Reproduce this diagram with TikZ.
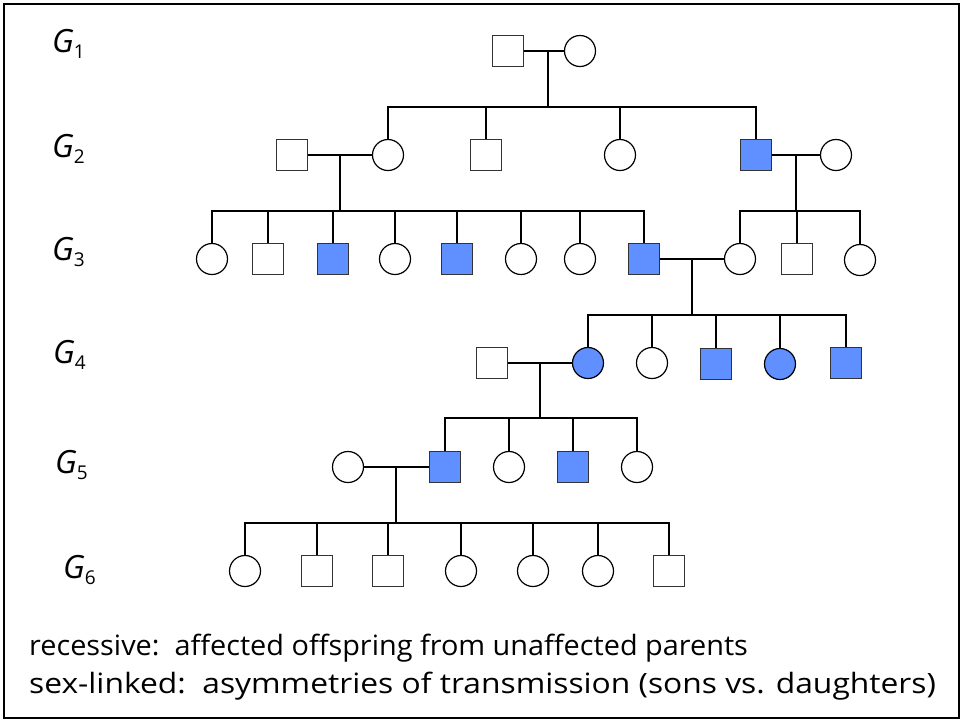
\documentclass[tikz,border=0pt]{standalone}
\usepackage{fontspec}
\setmainfont{Open Sans}
\definecolor{aff}{RGB}{96,143,255}
\tikzset{
  male/.style={draw=black!80, line width=1.3pt, fill=white, minimum size=31pt, inner sep=0pt, shape=rectangle},
  female/.style={draw=black, line width=1.2pt, fill=white, minimum size=31pt, inner sep=0pt, shape=circle},
  affected/.style={fill=aff},
  link/.style={draw=black, line width=2pt},
  glabel/.style={anchor=base west, inner sep=0pt, font=\fontsize{32}{32}\selectfont},
  caption/.style={anchor=base west, inner sep=0pt, font=\fontsize{28}{28}\selectfont}
}
\newcommand{\gen}[1]{{\itshape G}\raisebox{-6pt}{\fontsize{19}{19}\selectfont #1}}
\begin{document}
\begin{tikzpicture}[x=1pt,y=-1pt]
\useasboundingbox (0,0) rectangle (961,721);
\draw[line width=2pt] (4,4) rectangle (959,718);
% generation labels
\node[glabel] (l1) at (52,52) {\gen{1}};
\node[glabel] (l2) at (52,157) {\gen{2}};
\node[glabel] (l3) at (52,260) {\gen{3}};
\node[glabel] (l4) at (53,363) {\gen{4}};
\node[glabel] (l5) at (55,473) {\gen{5}};
\node[glabel] (l6) at (63,578) {\gen{6}};
% G1
\node[male] (a1) at (508,51) {};
\node[female] (a2) at (580,51) {};
\coordinate (m1) at (548,51);
\coordinate (s1) at (0,107);
% G2
\node[male] (b1) at (292,155) {};
\node[female] (b2) at (388,155) {};
\node[male] (b3) at (486,155) {};
\node[female] (b4) at (620,155) {};
\node[male,affected] (b5) at (756,155) {};
\node[female] (b6) at (836,155) {};
\coordinate (m2a) at (340,155);
\coordinate (m2b) at (796,155);
\coordinate (s2) at (0,211);
% G3
\node[female] (c1) at (212,259) {};
\node[male] (c2) at (268,259) {};
\node[male,affected] (c3) at (333,259) {};
\node[female] (c4) at (395,259) {};
\node[male,affected] (c5) at (457,259) {};
\node[female] (c6) at (521,259) {};
\node[female] (c7) at (580,259) {};
\node[male,affected] (c8) at (644,259) {};
\node[female] (c9) at (740,259) {};
\node[male] (c10) at (797,259) {};
\node[female] (c11) at (860,260) {};
\coordinate (m3) at (692,259);
\coordinate (s3) at (0,315);
% G4
\node[male] (d0) at (492,363) {};
\node[female,affected] (d1) at (588,363) {};
\node[female] (d2) at (652,363) {};
\node[male,affected] (d3) at (716,364) {};
\node[female,affected] (d4) at (780,364) {};
\node[male,affected] (d5) at (846,363) {};
\coordinate (m4) at (540,363);
\coordinate (s4) at (0,418);
% G5
\node[female] (e0) at (348,467) {};
\node[male,affected] (e1) at (445,467) {};
\node[female] (e2) at (509,467) {};
\node[male,affected] (e3) at (573,467) {};
\node[female] (e4) at (637,467) {};
\coordinate (m5) at (396,467);
\coordinate (s5) at (0,523);
% G6
\node[female] (f1) at (245,571) {};
\node[male] (f2) at (317,571) {};
\node[male] (f3) at (388,571) {};
\node[female] (f4) at (461,571) {};
\node[female] (f5) at (533,571) {};
\node[female] (f6) at (598,571) {};
\node[male] (f7) at (669,571) {};
% marriages
\draw[link] (a1) -- (a2);
\draw[link] (b1) -- (b2);
\draw[link] (b5) -- (b6);
\draw[link] (c8) -- (c9);
\draw[link] (d0) -- (d1);
\draw[link] (e0) -- (e1);
% descent lines
\draw[link] (m1) -- (m1 |- s1);
\draw[link] (m2a) -- (m2a |- s2);
\draw[link] (m2b) -- (m2b |- s2);
\draw[link] (m3) -- (m3 |- s3);
\draw[link] (m4) -- (m4 |- s4);
\draw[link] (m5) -- (m5 |- s5);
% sibship lines
\draw[link,line cap=rect] (b2 |- s1) -- (b5 |- s1);
\foreach \c in {b2,b3,b4,b5} \draw[link] (\c) -- (\c |- s1);
\draw[link,line cap=rect] (c1 |- s2) -- (c8 |- s2);
\foreach \c in {c1,c2,c3,c4,c5,c6,c7,c8} \draw[link] (\c) -- (\c |- s2);
\draw[link,line cap=rect] (c9 |- s2) -- (c11 |- s2);
\foreach \c in {c9,c10,c11} \draw[link] (\c) -- (\c |- s2);
\draw[link,line cap=rect] (d1 |- s3) -- (d5 |- s3);
\foreach \c in {d1,d2,d3,d4,d5} \draw[link] (\c) -- (\c |- s3);
\draw[link,line cap=rect] (e1 |- s4) -- (e4 |- s4);
\foreach \c in {e1,e2,e3,e4} \draw[link] (\c) -- (\c |- s4);
\draw[link,line cap=rect] (f1 |- s5) -- (f7 |- s5);
\foreach \c in {f1,f2,f3,f4,f5,f6,f7} \draw[link] (\c) -- (\c |- s5);
% caption
\node[caption] (t1) at (29,655) {\scalebox{1.03}[1]{recessive:\ \ affected offspring from unaffected parents}};
\node[caption] (t2) at (29,693) {\scalebox{1.135}[1]{sex-linked:\ \ asymmetries of transmission (sons vs. daughters)}};
\end{tikzpicture}
\end{document}
